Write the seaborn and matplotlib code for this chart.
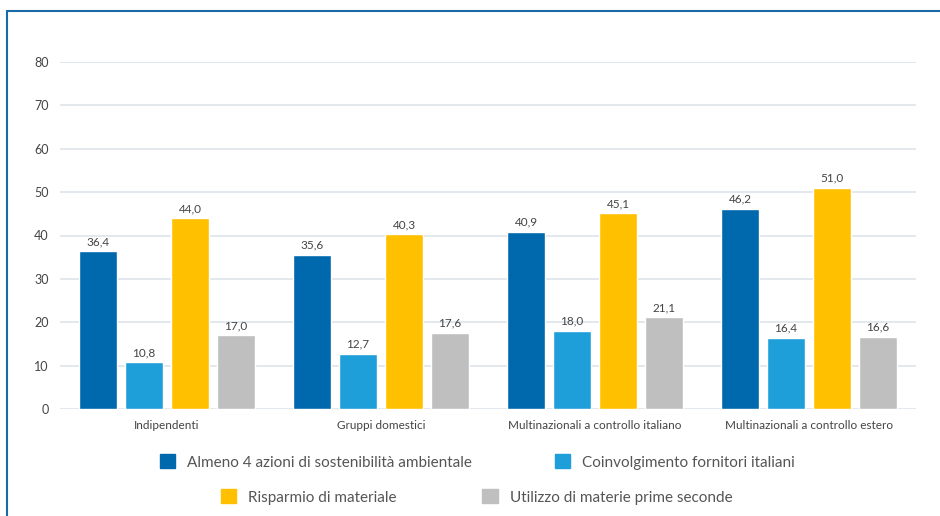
import pandas as pd
import numpy as np
import seaborn as sns
import matplotlib.pyplot as plt
from matplotlib.lines import Line2D
from matplotlib.patches import Patch

categorie = ['Indipendenti', 'Gruppi domestici',
             'Multinazionali a controllo italiano', 'Multinazionali a controllo estero']
serie = ['Almeno 4 azioni di sostenibilità ambientale', 'Coinvolgimento fornitori italiani',
         'Risparmio di materiale', 'Utilizzo di materie prime seconde']
almeno4 = [36.4, 35.6, 40.9, 46.2]
fornitori = [10.8, 12.7, 18.0, 16.4]
risparmio = [44.0, 40.3, 45.1, 51.0]
materie = [17.0, 17.6, 21.1, 16.6]
colori = ['#0068ad', '#1e9fd9', '#ffc000', '#bfbfbf']

righe = []
for s, vals in zip(serie, [almeno4, fornitori, risparmio, materie]):
    for c, v in zip(categorie, vals):
        righe.append({'categoria': c, 'serie': s, 'valore': v})
df = pd.DataFrame(righe)

sns.set_style('white')
plt.rcParams['font.family'] = ['Lato', 'DejaVu Sans']

fig = plt.figure(figsize=(9.4, 5.16), dpi=100)
ax = fig.add_axes([60/940, 1-409/516, 856/940, 347/516])

sns.barplot(data=df, x='categoria', y='valore', hue='serie', order=categorie,
            hue_order=serie, palette=colori, width=0.86, gap=0.17,
            saturation=1, legend=False, ax=ax)

for cont in ax.containers:
    ax.bar_label(cont, labels=[f'{b.get_height():.1f}'.replace('.', ',') for b in cont],
                 padding=3, fontsize=8.5, color='#444444')

ax.set_ylim(0, 80)
ax.set_yticks(range(0, 81, 10))
ax.set_xlim(-0.5, 3.5)
ax.yaxis.grid(True, color='#e3e8ee', linewidth=1.4)
ax.set_axisbelow(True)
for sp in ax.spines.values():
    sp.set_visible(False)
ax.tick_params(axis='y', length=0, pad=8, labelsize=9, labelcolor='#444444')
ax.tick_params(axis='x', length=0, pad=8, labelsize=8.5, labelcolor='#444444')
ax.set_xlabel('')
ax.set_ylabel('')

# legenda su due righe centrate separatamente
riga1 = [Patch(color=colori[0]), Patch(color=colori[1])]
riga2 = [Patch(color=colori[2]), Patch(color=colori[3])]
kw = dict(frameon=False, ncol=2, fontsize=11, handlelength=1.0, handleheight=1.0,
          handletextpad=0.8, labelcolor='#555555')
leg1 = fig.legend(riga1, serie[:2], loc='center', bbox_to_anchor=(0.508, 1-462/516),
                  columnspacing=5.4, **kw)
leg2 = fig.legend(riga2, serie[2:], loc='center', bbox_to_anchor=(0.507, 1-497/516),
                  columnspacing=5.6, **kw)

# cornice
fig.add_artist(Line2D([7/940, 1], [1-11/516, 1-11/516], color='#1a6aa5', linewidth=1.5))
fig.add_artist(Line2D([7/940, 7/940], [0, 1-11/516], color='#1a6aa5', linewidth=1.5))

fig.savefig('out.png', dpi=100)
